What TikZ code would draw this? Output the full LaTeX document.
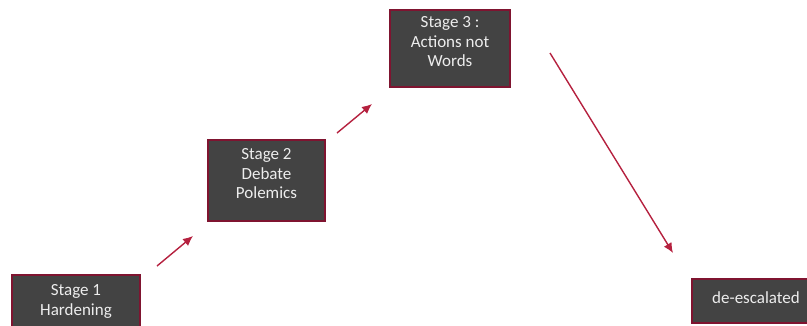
\documentclass[tikz,border=0pt]{standalone}
\usepackage{fontspec}
\setmainfont{Carlito}
\usetikzlibrary{arrows.meta,positioning}
\definecolor{stagefill}{HTML}{434343}
\definecolor{stageline}{HTML}{7F1430}
\definecolor{arrowred}{HTML}{B5213F}
\definecolor{stagetext}{HTML}{EDEDED}
\tikzstyle{stage}=[rectangle,draw=stageline,line width=2pt,fill=stagefill,
text=stagetext,align=center,font=\fontsize{17}{19.5}\selectfont,inner sep=0pt]
\tikzstyle{push}=[draw=arrowred,line width=1.4pt,-{Latex[length=10pt,width=9pt]}]

\begin{document}
\begin{tikzpicture}[x=1pt,y=-1pt]
            \useasboundingbox (0,0) rectangle (807,325);
            \clip (0,0) rectangle (807,325);

            % STAGES

            \node[stage,minimum width=128pt,minimum height=54pt,text depth=4pt] (s1) at (76,302) {Stage 1\\Hardening};
            \node[stage,minimum width=117pt,minimum height=81pt,text depth=14pt] (s2) at (266.5,180.5) {Stage 2\\Debate\\Polemics};
            \node[stage,minimum width=120pt,minimum height=77pt,text depth=14pt] (s3) at (450,48.5) {Stage 3 :\\Actions not\\Words};
            \node[stage,minimum width=128pt,minimum height=44pt,text depth=6pt] (s4) at (756,301) {de-escalated};

            % ARROWS

            \coordinate (a1) at (157,266);
            \coordinate (b1) at (193,236);
            \coordinate (a2) at (337,133);
            \coordinate (b2) at (372,104);
            \coordinate (a3) at (550,53);
            \coordinate (b3) at (673,253);

            \draw[push] (a1) -- (b1);
            \draw[push] (a2) -- (b2);
            \draw[push] (a3) -- (b3);

        \end{tikzpicture}
\end{document}
